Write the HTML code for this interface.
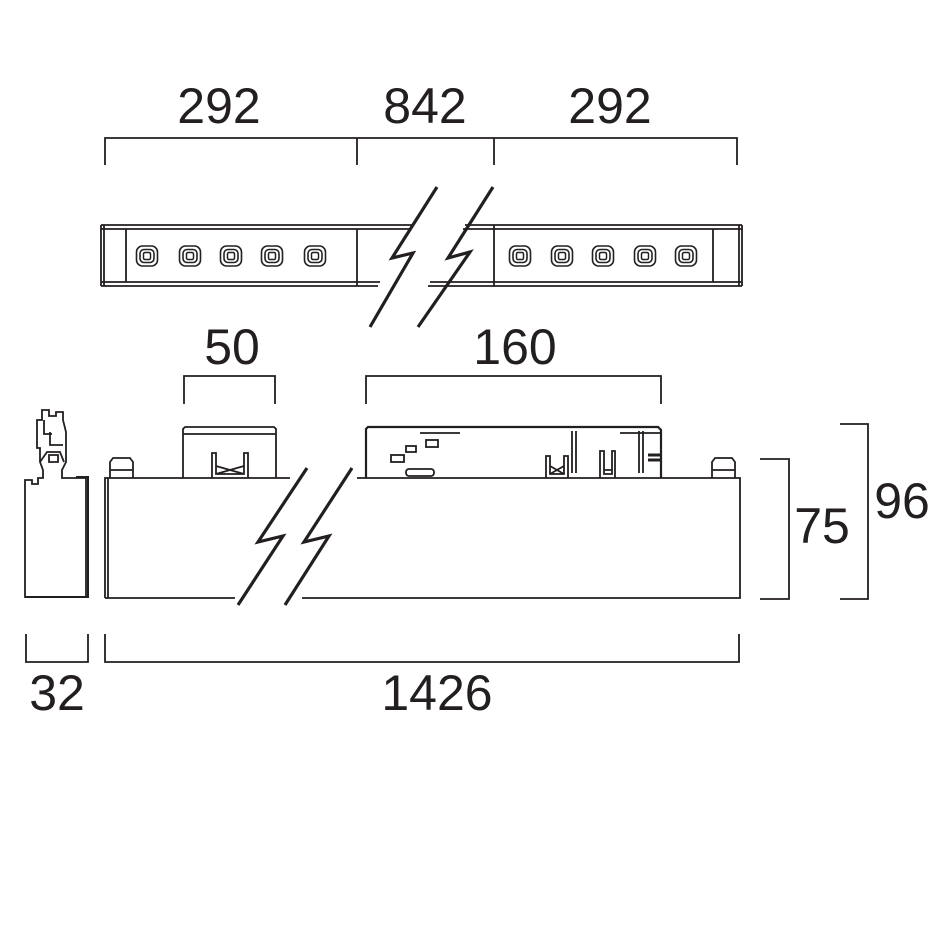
<!DOCTYPE html>
<html><head><meta charset="utf-8"><style>
html,body{margin:0;padding:0;background:#fff;}
svg{display:block;}
text{font-family:"Liberation Sans",sans-serif;font-size:50px;fill:#231f20;text-anchor:middle;}
</style></head><body>
<svg width="946" height="946" viewBox="0 0 946 946" xmlns="http://www.w3.org/2000/svg">
<defs>
<g id="led">
<rect x="-10.5" y="-10" width="21" height="20" rx="6" fill="none" stroke="#222" stroke-width="1.6"/>
<rect x="-7" y="-6.5" width="14" height="13" rx="4" fill="none" stroke="#222" stroke-width="1.6"/>
<rect x="-3.5" y="-3.5" width="7" height="7" rx="1.5" fill="none" stroke="#222" stroke-width="1.5"/>
</g>
</defs>
<g stroke="#231f20" stroke-width="1.8" fill="none">
<!-- top dims -->
<path d="M105 165V138H737V165M357 138V165M494 138V165"/>
<!-- top bar -->
<path d="M101 225V286M742 225V286M104 225V286M739 225V286"/>
<path d="M101 225H412M101 229H410M101 282H380M101 286H378"/>
<path d="M465 225H742M463 229H742M430 282H742M428 286H742"/>
<path d="M126 229V282M357 229V286M494 225V286M713 229V282"/>
<!-- break top -->
<path d="M437 187L392 258L413 253L370 327M493 187L448 258L470 252L418 327" stroke-width="3.2"/>
<!-- side profile -->
<path d="M25 597V480H32V484H38V478H43V470L40 462V448H37V420H42V410H49V416H56V412H63V420L66 432V462L62 470V478H86V597Z"/>
<path d="M25 597H88V477H76" stroke-width="2"/>
<path d="M40 462L47 452H60L64 462M49 455H58V462H49Z"/>
<path d="M50 432V445H63M44 420V434H52"/>
<!-- main body -->
<path d="M105 598V478H290M357 478H740V598H302M235 598H105"/>
<path d="M108 478V598"/>
<path d="M110 478V462L113 458H130L133 462V478M110 470H133"/>
<path d="M712 478V462L715 458H732L735 462V478M712 470H735"/>
<!-- 50 block -->
<path d="M183 478V429L185 427H274L276 429V478M183 434H276"/>
<path d="M212 478V453H216V474H244V453H248V478M216 466L244 474M216 474L244 466"/>
<!-- driver -->
<path d="M366 478V429L368 427H658L661 430V478" stroke-width="2.2"/>
<path d="M420 433H460M620 433H660M572 431V473M576 431V473M639 431V473M643 431V473"/>
<rect x="406" y="446" width="10" height="6"/><rect x="391" y="455" width="13" height="7"/><rect x="426" y="440" width="12" height="7"/>
<rect x="406" y="469" width="28" height="7" rx="3"/>
<path d="M546 478V456H550V474H564V456H568V478M550 466L564 474M550 474L564 466"/>
<path d="M600 478V451H604V474H612V451H615V478M604 470H612"/>
<path d="M648 455H660M648 460H660" stroke-width="3"/>
<!-- break main -->
<path d="M307 468L258 542L283 536L238 605M352 468L304 542L329 536L285 605" stroke-width="3.2"/>
<!-- dims -->
<path d="M184 404V376H275V404M366 404V376H661V404"/>
<path d="M760 459H789V599H760M840 424H868V599H840"/>
<path d="M26 634V662H88V634M105 634V662H739V634"/>
</g>
<use href="#led" x="147" y="256"/><use href="#led" x="190" y="256"/><use href="#led" x="231" y="256"/><use href="#led" x="272" y="256"/><use href="#led" x="315" y="256"/>
<use href="#led" x="520" y="256"/><use href="#led" x="562" y="256"/><use href="#led" x="603" y="256"/><use href="#led" x="645" y="256"/><use href="#led" x="686" y="256"/>
<text x="219" y="123">292</text>
<text x="425" y="123">842</text>
<text x="610" y="123">292</text>
<text x="232" y="364">50</text>
<text x="515" y="364">160</text>
<text x="822" y="543">75</text>
<text x="902" y="518">96</text>
<text x="57" y="710">32</text>
<text x="437" y="710">1426</text>
</svg>
</body></html>
